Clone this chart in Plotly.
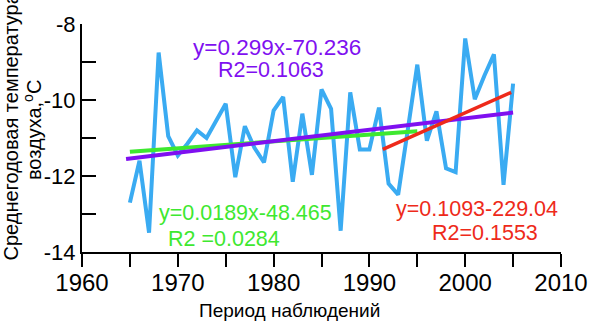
import plotly.graph_objects as go

years = list(range(1965, 2006))
temps = [-12.70, -11.60, -13.49, -8.75, -10.95, -11.46, -11.15, -10.80, -11.00,
         -10.56, -10.10, -12.03, -10.69, -11.26, -11.64, -10.28, -9.92, -12.15,
         -10.36, -11.97, -9.72, -10.23, -13.44, -9.80, -11.30, -11.30, -10.20,
         -12.20, -12.49, -10.80, -9.07, -11.07, -10.30, -11.80, -11.90, -8.38,
         -9.98, -9.36, -8.80, -12.23, -9.57]

trend_all_x = [1964.6, 2005]
trend_all_y = [-11.55, -10.33]
trend_early_x = [1965, 1995]
trend_early_y = [-11.36, -10.82]
trend_late_x = [1991.4, 2004.8]
trend_late_y = [-11.30, -9.80]

x_tickvals = [1960, 1970, 1980, 1990, 2000, 2010]
x_ticktext = ["1960", "1970", "1980", "1990", "2000", "2010"]
y_tickvals = [-8, -10, -12, -14]
y_ticktext = ["-8", "-10", "-12", "-14"]

BLUE = "#3AABF2"
PURPLE = "#7F10F0"
GREEN = "#3EE830"
RED = "#EE2A1A"
FONT = "Liberation Sans, Arial, sans-serif"

fig = go.Figure()
fig.add_trace(go.Scatter(x=years, y=temps, mode="lines",
                         line=dict(color=BLUE, width=4), showlegend=False))
fig.add_trace(go.Scatter(x=trend_early_x, y=trend_early_y, mode="lines",
                         line=dict(color=GREEN, width=4), showlegend=False))
fig.add_trace(go.Scatter(x=trend_all_x, y=trend_all_y, mode="lines",
                         line=dict(color=PURPLE, width=4), showlegend=False))
fig.add_trace(go.Scatter(x=trend_late_x, y=trend_late_y, mode="lines",
                         line=dict(color=RED, width=3.5), showlegend=False))

def txt(x, y, s, color, size=21.5):
    fig.add_annotation(x=x, y=y, xref="x", yref="y", text=s, showarrow=False,
                       font=dict(family=FONT, size=size, color=color),
                       xanchor="center", yanchor="middle", borderpad=0)

txt(1980.33, -8.62, "y=0.299x-70.236", PURPLE, 22.5)
txt(1979.76, -9.21, "R2=0.1063", PURPLE)
txt(1977.1, -12.97, "y=0.0189x-48.465", GREEN)
txt(1974.8, -13.67, "R2 =0.0284", GREEN)
txt(2001.2, -12.87, "y=0.1093-229.04", RED)
txt(2002.1, -13.49, "R2=0.1553", RED)

PL, PW, PB, PH = 82, 487, 71, 234

def pxx(px):
    return (px - PL) / PW

def pxy(py):
    return (323 - PB - py) / PH

fig.add_annotation(x=pxx(10), y=pxy(123), xref="paper", yref="paper",
                   text="Среднегодовая температура", showarrow=False, textangle=-90,
                   font=dict(family=FONT, size=20, color="black"),
                   xanchor="center", yanchor="middle")
fig.add_annotation(x=pxx(31), y=pxy(127), xref="paper", yref="paper",
                   text="воздуха,<sup>o</sup>C", showarrow=False, textangle=-90,
                   font=dict(family=FONT, size=20, color="black"),
                   xanchor="center", yanchor="middle")
fig.add_annotation(x=pxx(293), y=pxy(312), xref="paper", yref="paper",
                   text="Период наблюдений", showarrow=False,
                   font=dict(family=FONT, size=19, color="black"),
                   xanchor="center", yanchor="middle")

fig.update_layout(
    width=600, height=323,
    margin=dict(l=PL, r=600 - PL - PW, t=18, b=PB),
    paper_bgcolor="white", plot_bgcolor="white",
    font=dict(family=FONT, color="black"),
)

fig.update_xaxes(range=[1960, 2010], tickvals=x_tickvals, ticktext=x_ticktext,
                 showgrid=False, zeroline=False, showline=True, linecolor="black",
                 linewidth=2, ticks="outside", ticklen=13, tickwidth=2, tickcolor="black",
                 minor=dict(dtick=5, ticks="outside", ticklen=13, tickwidth=2,
                            tickcolor="black", tick0=1960),
                 ticklabelstandoff=-5,
                 tickfont=dict(family=FONT, size=24, color="black"))
fig.update_yaxes(range=[-14, -8], tickvals=y_tickvals, ticktext=y_ticktext,
                 showgrid=False, zeroline=False, showline=True, linecolor="black",
                 linewidth=2, ticks="inside", ticklen=14, tickwidth=2, tickcolor="black",
                 minor=dict(dtick=1, ticks="inside", ticklen=14, tickwidth=2,
                            tickcolor="black", tick0=-8),
                 tickfont=dict(family=FONT, size=22, color="black"))

fig.write_html("out.html")
